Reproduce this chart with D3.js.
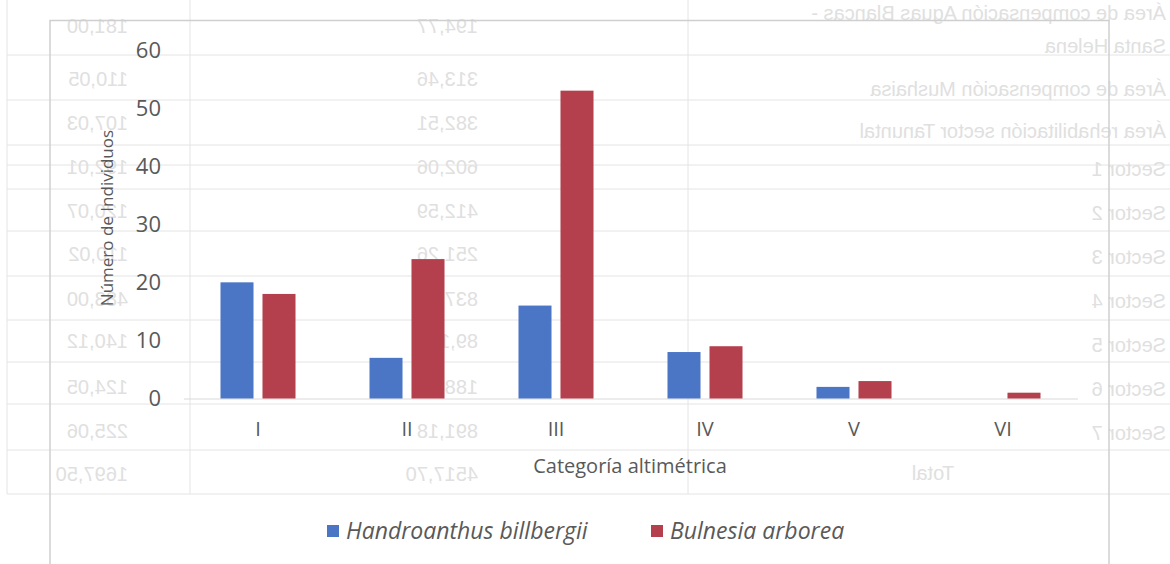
<!DOCTYPE html>
<html>
<head>
<meta charset="utf-8">
<script src="https://cdnjs.cloudflare.com/ajax/libs/d3/7.8.5/d3.min.js"></script>
<style>
  body { margin: 0; background: #ffffff; }
  svg { display: block; }
  .bleed { font-family: "Liberation Sans", Arial, sans-serif; font-size: 20px; fill: #e0e0e0; }
  .tick-label { font-family: "Open Sans", sans-serif; font-size: 22px; fill: #595959; }
  .cat-label { font-family: "Open Sans", sans-serif; font-size: 20px; fill: #595959; }
  .axis-title { font-family: "Open Sans", sans-serif; font-size: 20px; fill: #595959; }
  .y-title { font-family: "Open Sans", sans-serif; font-size: 17px; fill: #595959; }
  .legend-text { font-family: "Open Sans", sans-serif; font-size: 23px; font-style: italic; fill: #595959; }
</style>
</head>
<body>
<div id="chart"></div>
<script>
// Chart data
var categories = ["I", "II", "III", "IV", "V", "VI"];
var seriesNames = ["Handroanthus billbergii", "Bulnesia arborea"];
var handroanthus = [20, 7, 16, 8, 2, 0];
var bulnesia = [18, 24, 53, 9, 3, 1];
var yTicks = [0, 10, 20, 30, 40, 50, 60];
var colors = ["#4b76c6", "#b3404c"];

// Faint table showing through from the back of the scanned page (mirrored)
var bleedLabels = ["Área de compensación Aguas Blancas -", "Santa Helena", "Área de compensación Mushaisa",
  "Área rehabilitación sector Tanuntal", "Sector 1", "Sector 2", "Sector 3", "Sector 4",
  "Sector 5", "Sector 6", "Sector 7"];
var bleedLabelRows = [12, 45, 88, 130, 168, 212, 256, 300, 344, 388, 432];
var bleedMid = ["194,77", "313,46", "382,51", "602,06", "412,59", "251,26", "837,22", "89,10", "188,32", "891,18", "4517,70"];
var bleedLeft = ["181,00", "110,05", "107,03", "192,01", "120,07", "110,02", "483,00", "140,12", "124,05", "225,06", "1697,50"];
var bleedNumRows = [25, 78, 122, 166, 210, 253, 298, 340, 386, 430, 473];
var bleedHLines = [55, 100, 145, 165, 189, 231, 276, 320, 362, 404, 450, 494];
var bleedVLines = [7, 190, 688];

var svgWidth = 1170;
var svgHeight = 564;

var svg = d3.select("#chart")
  .append("svg")
  .attr("width", svgWidth)
  .attr("height", svgHeight);

// Background bleed-through layer
var bleed = svg.append("g");

bleed.selectAll(".hline")
  .data(bleedHLines)
  .enter()
  .append("line")
  .attr("x1", 7)
  .attr("x2", svgWidth)
  .attr("y1", d => d)
  .attr("y2", d => d)
  .attr("stroke", "#e4e4e4")
  .attr("stroke-width", 1);

bleed.selectAll(".vline")
  .data(bleedVLines)
  .enter()
  .append("line")
  .attr("x1", d => d)
  .attr("x2", d => d)
  .attr("y1", 0)
  .attr("y2", 494)
  .attr("stroke", "#e4e4e4")
  .attr("stroke-width", 1);

bleed.selectAll(".blabel")
  .data(bleedLabels)
  .enter()
  .append("text")
  .attr("class", "bleed")
  .attr("transform", (d, i) => `translate(1166, ${bleedLabelRows[i] + 8}) scale(-1, 1)`)
  .text(d => d);

bleed.append("text")
  .attr("class", "bleed")
  .attr("transform", "translate(933, 480) scale(-1, 1)")
  .attr("text-anchor", "middle")
  .text("Total");

bleed.selectAll(".bmid")
  .data(bleedMid)
  .enter()
  .append("text")
  .attr("class", "bleed")
  .attr("transform", (d, i) => `translate(478, ${bleedNumRows[i] + 8}) scale(-1, 1)`)
  .text(d => d);

bleed.selectAll(".bleft")
  .data(bleedLeft)
  .enter()
  .append("text")
  .attr("class", "bleed")
  .attr("transform", (d, i) => `translate(128, ${bleedNumRows[i] + 8}) scale(-1, 1)`)
  .text(d => d);

// Chart area border
svg.append("rect")
  .attr("x", 50)
  .attr("y", 20.5)
  .attr("width", 1059)
  .attr("height", 600)
  .attr("fill", "none")
  .attr("stroke", "#cfcfcf")
  .attr("stroke-width", 1.5);

// Scales
var x0 = d3.scaleBand()
  .domain(categories)
  .range([183.5, 1077.5])
  .paddingInner(0.4966)
  .paddingOuter(0.2483);

var x1 = d3.scaleBand()
  .domain(seriesNames)
  .range([0, x0.bandwidth()])
  .paddingInner(0.214);

var y = d3.scaleLinear()
  .domain([0, 60])
  .range([398.5, 50]);

var chartGroup = svg.append("g");

// Y axis labels
var leftAxis = d3.axisLeft(y).tickValues(yTicks).tickSize(0).tickPadding(0);
var yAxis = chartGroup.append("g")
  .attr("transform", "translate(161, 0)")
  .call(leftAxis);
yAxis.select(".domain").remove();
yAxis.selectAll("text")
  .attr("class", "tick-label")
  .attr("fill", null)
  .attr("font-size", null)
  .attr("font-family", null);

// X axis
var bottomAxis = d3.axisBottom(x0).tickSize(0).tickPadding(23);
var xAxis = chartGroup.append("g")
  .attr("transform", `translate(0, ${y(0)})`)
  .call(bottomAxis);
xAxis.select(".domain")
  .attr("stroke", "#d9d9d9");
xAxis.selectAll("text")
  .attr("class", "cat-label")
  .attr("fill", null)
  .attr("font-size", null)
  .attr("font-family", null);

// Bars
var seriesValues = [handroanthus, bulnesia];
var groups = chartGroup.selectAll(".cat")
  .data(categories)
  .enter()
  .append("g")
  .attr("transform", d => `translate(${x0(d)}, 0)`);

groups.selectAll("rect")
  .data((d, i) => seriesNames.map((s, j) => ({ series: s, idx: j, value: seriesValues[j][i] })))
  .enter()
  .filter(d => d.value > 0)
  .append("rect")
  .attr("x", d => x1(d.series))
  .attr("y", d => y(d.value))
  .attr("width", x1.bandwidth())
  .attr("height", d => y(0) - y(d.value))
  .attr("fill", d => colors[d.idx]);

// Axis titles
chartGroup.append("text")
  .attr("class", "y-title")
  .attr("transform", "translate(113, 218) rotate(-90)")
  .attr("text-anchor", "middle")
  .text("Número de Individuos");

chartGroup.append("text")
  .attr("class", "axis-title")
  .attr("x", 630)
  .attr("y", 473)
  .attr("text-anchor", "middle")
  .text("Categoría altimétrica");

// Legend
var legendX = [327, 651];
var legend = chartGroup.selectAll(".legend")
  .data(seriesNames)
  .enter()
  .append("g")
  .attr("transform", (d, i) => `translate(${legendX[i]}, 531)`);

legend.append("rect")
  .attr("x", 0)
  .attr("y", -6)
  .attr("width", 12)
  .attr("height", 12)
  .attr("fill", (d, i) => colors[i]);

legend.append("text")
  .attr("class", "legend-text")
  .attr("x", 19)
  .attr("y", 8)
  .text(d => d);
</script>
</body>
</html>
